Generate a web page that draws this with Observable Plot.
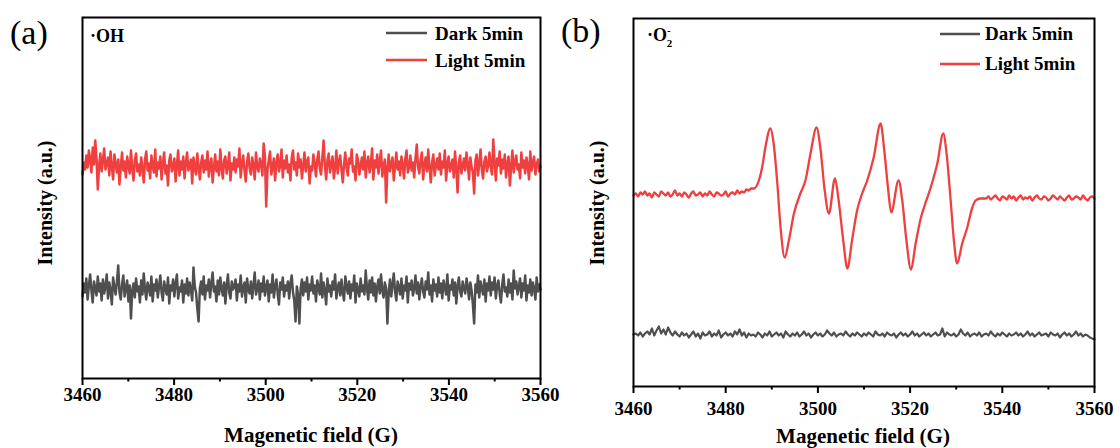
<!DOCTYPE html>
<html>
<head>
<meta charset="utf-8">
<script src="https://cdn.jsdelivr.net/npm/d3@7"></script>
<script src="https://cdn.jsdelivr.net/npm/@observablehq/plot@0.6"></script>
<style>
  html, body { margin: 0; padding: 0; background: #fff; }
  #wrap { position: relative; width: 1120px; height: 448px; overflow: hidden; }
  #wrap > svg { position: absolute; top: 0; }
</style>
</head>
<body>
<div id="wrap"></div>
<script>
// ---------- data ----------
const seriesNames = ["Dark 5min", "Light 5min"];
const panelLetters = ["(a)", "(b)"];
const xTicksMajor = [3460, 3480, 3500, 3520, 3540, 3560];
const xTicksMinor = [3470, 3490, 3510, 3530, 3550];
const xLabel = "Magenetic field (G)";
const yLabel = "Intensity (a.u.)";

// Panel (a) ·OH  (evenly sampled from 3460 to 3560 G)
const lightA = [
204,216,209,223,211,228,219,206,231,214,238,220,189,213,225,207,218,230,209,215,
221,203,227,212,199,224,215,206,219,194,212,226,208,217,201,222,213,205,228,210,
198,218,225,207,214,203,221,211,196,219,227,208,215,200,223,212,206,229,202,216,
210,222,199,215,226,205,213,193,218,224,207,211,220,197,214,228,203,217,209,222,
200,215,226,208,213,219,195,221,210,204,225,212,199,216,223,206,218,209,227,202,
214,220,196,211,224,207,217,203,229,212,200,218,222,205,213,226,198,215,209,221,
206,219,212,230,201,214,223,208,197,217,225,210,204,221,213,199,226,211,207,220,
215,203,235,222,172,209,218,227,204,212,220,198,216,224,207,213,229,201,218,210,
223,206,214,198,221,228,209,216,203,225,211,219,200,213,226,207,217,221,195,212,
208,224,215,202,219,227,210,204,221,238,213,199,218,225,206,214,222,200,211,228,
205,217,223,209,196,214,226,211,203,220,215,229,207,212,198,224,218,204,213,221,
209,227,201,216,222,206,214,230,199,218,211,224,205,217,228,202,213,219,176,210,
224,207,215,221,198,212,226,209,217,203,222,214,200,219,228,206,211,223,208,216,
201,220,234,212,205,218,226,199,214,221,207,229,211,196,216,224,203,213,220,209,
225,204,217,211,228,198,215,222,207,213,219,201,227,210,186,216,223,205,212,220,
208,226,214,199,221,212,206,185,218,224,203,215,229,209,200,217,222,207,213,226,
211,204,239,216,198,220,213,227,205,219,210,224,201,215,222,193,212,228,206,217,
223,209,214,200,226,211,218,205,221,213,199,227,208,216,222,204,214,219,207,212];
const darkA = [
82,95,86,100,79,93,104,88,76,97,90,83,102,87,95,78,99,85,92,104,
80,96,88,74,101,91,84,97,113,86,79,94,103,82,90,98,77,93,60,88,
95,81,100,87,92,76,98,84,105,89,79,96,91,83,102,77,94,88,99,81,
92,103,86,78,97,90,84,101,75,93,88,99,82,95,104,80,91,87,98,76,
94,85,100,83,96,89,78,111,92,86,70,57,90,97,84,102,79,93,88,99,
81,95,106,87,92,77,98,84,101,90,83,96,75,93,104,86,80,97,89,92,
99,78,94,87,103,82,91,96,76,100,88,85,97,80,93,106,84,90,98,79,
95,87,102,83,91,98,77,94,86,104,81,92,99,85,74,96,89,101,82,93,
88,97,80,95,103,86,78,57,92,84,55,90,99,83,96,87,101,79,94,88,
102,85,93,77,98,90,84,105,81,96,88,74,100,87,93,82,97,89,104,80,
91,96,83,99,86,78,102,92,85,97,80,94,88,103,76,95,89,82,100,87,
93,84,108,90,79,98,86,101,83,95,77,92,99,85,104,88,81,96,90,55,
86,99,82,94,105,87,78,97,91,84,100,80,93,88,102,76,95,89,98,83,
90,103,85,96,79,92,100,87,81,97,89,106,84,93,77,99,88,94,82,101,
86,95,80,98,91,84,104,78,93,89,99,83,96,75,92,101,87,82,97,90,
85,100,92,79,96,88,74,55,94,86,103,81,97,90,84,99,77,95,88,102,
83,96,89,101,80,93,98,85,76,94,104,87,91,82,99,86,95,79,108,90,
97,84,92,100,81,95,88,103,78,93,86,99,83,96,90,79,101,87,94,89];

// Panel (b) ·O2-
// light: baseline 3460–3485.5 G (0.5 G step), signal region (read points), baseline 3536.5–3560 G (0.5 G step)
const lightBLeft = [
191,193,190,194,192,195,191,193,189,194,192,190,195,193,191,194,190,192,196,191,
193,190,194,192,189,193,195,191,192,194,190,193,191,195,192,190,194,193,191,192,
195,190,193,194,192,196,193,195,194,197,196,198];
const lightBSignalField = [
3486.1,3487.2,3487.9,3488.6,3489.7,3490.4,3491.2,3491.9,3492.8,3493.7,
3494.8,3496.2,3497.3,3498.4,3499.7,3500.6,3501.4,3502.4,3503.7,3504.5,
3505.5,3506.4,3507.4,3508.5,3509.6,3510.7,3512.1,3513.6,3514.4,3515.2,
3515.9,3517.5,3518.3,3519.2,3520.2,3521.2,3522.3,3523.3,3524.4,3525.9,
3527.2,3528.0,3528.8,3529.5,3530.2,3531.3,3532.4,3533.5,3534.2,3535.2,3536.0];
const lightBSignal = [
198,206,219,239,258,243,203,159,129,146,
173,193,206,233,259,236,199,173,208,186,
146,118,146,176,193,206,229,263,236,199,
174,206,186,146,117,143,168,183,198,223,
253,229,186,146,123,143,159,179,186,188,188];
const lightBRight = [
188,190,187,189,191,188,186,190,189,187,191,188,190,186,189,191,187,189,188,190,
186,189,191,188,187,190,189,186,188,191,189,187,190,188,186,189,191,187,188,190,
189,187,191,188,186,189,190,188];
// dark: 3460–3560 G, 0.5 G step
const darkB = [
52,53,51,54,50,53,55,52,58,51,56,60,53,57,52,59,54,51,55,52,
50,54,51,53,49,52,55,50,53,48,54,51,52,55,50,53,51,56,49,52,
54,51,53,50,55,52,57,51,54,49,53,51,52,50,54,52,49,53,51,55,
50,52,54,51,53,49,55,52,50,53,51,54,50,52,55,51,53,49,52,54,
51,53,50,52,56,53,51,54,50,52,53,51,55,52,50,53,51,54,52,50,
53,51,54,52,50,55,52,51,53,50,54,52,51,53,49,52,54,51,53,50,
52,55,51,53,50,52,54,51,53,50,52,54,51,52,58,50,54,52,51,53,
50,52,57,53,51,54,50,52,53,51,54,50,52,53,51,55,52,50,53,51,
54,52,50,53,51,52,54,51,53,50,52,55,51,53,50,52,54,51,52,53,
50,54,52,51,53,49,52,54,51,53,50,52,55,51,53,50,52,51,49,48,47];

// ---------- build tables ----------
const X0 = 3460, X1 = 3560;
const tA = lightA.map((v, i) => ({x: X0 + i * (X1 - X0) / (lightA.length - 1), y: v}));
const tAd = darkA.map((v, i) => ({x: X0 + i * (X1 - X0) / (darkA.length - 1), y: v}));
const tB = [
  ...lightBLeft.map((v, i) => ({x: X0 + i * 0.5, y: v})),
  ...lightBSignal.map((v, i) => ({x: lightBSignalField[i], y: v})),
  ...lightBRight.map((v, i) => ({x: 3536.5 + i * 0.5, y: v}))
];
const tBd = darkB.map((v, i) => ({x: X0 + i * 0.5, y: v}));

const RED = "#ef3f3f", GRAY = "#4f4f4f";
const FONT = "'Liberation Serif', 'Times New Roman', serif";

function panel(cfg) {
  const svg = Plot.plot({
    width: 560, height: 448,
    marginLeft: cfg.ml, marginRight: cfg.mr, marginTop: cfg.mt, marginBottom: cfg.mb,
    style: {fontFamily: FONT, fontSize: "19px", fontWeight: "bold", color: "#000", background: "#fff", overflow: "visible"},
    x: {domain: [X0, X1]},
    y: {domain: [0, cfg.yMax], axis: null},
    marks: [
      Plot.line(cfg.dark, {x: "x", y: "y", stroke: GRAY, strokeWidth: cfg.sw}),
      Plot.line(cfg.light, {x: "x", y: "y", stroke: RED, strokeWidth: cfg.swL, curve: cfg.curve}),
      Plot.frame({stroke: "#000", strokeWidth: 2}),
      Plot.axisX({ticks: xTicksMajor, tickSize: 7, tickPadding: cfg.tp, strokeWidth: 2,
                  tickFormat: d => String(d), label: null,
                  fontSize: 19, fontWeight: "bold", fontFamily: FONT, fill: "#000"}),
      Plot.axisX({ticks: xTicksMinor, tickSize: 3.5, strokeWidth: 2, text: null, label: null})
    ]
  });
  const s = d3.select(svg);
  // make tick labels bold serif
  s.selectAll("text").style("font-family", FONT).style("font-weight", "bold").style("font-size", "19px");
  const add = (txt, x, y, size, weight, anchor) =>
    s.append("text").attr("x", x).attr("y", y)
     .style("font-family", FONT).style("font-size", size + "px").style("font-weight", weight)
     .attr("text-anchor", anchor || "start").attr("fill", "#000").text(txt);
  add(cfg.letter, cfg.letterX, cfg.letterY, 34, "normal");
  // species label
  const sp = add("", cfg.spX, cfg.spY, 18, "bold");
  sp.append("tspan").style("font-size", "18px").text(cfg.species);
  if (cfg.sub) {
    sp.append("tspan").style("font-size", "11px").attr("dy", -7).text("-");
    sp.append("tspan").style("font-size", "11px").attr("dx", -4).attr("dy", 13).text(cfg.sub);
  }
  // legend
  [GRAY, RED].forEach((c, i) => {
    s.append("line").attr("x1", cfg.lgX1).attr("x2", cfg.lgX2)
     .attr("y1", cfg.lgY[i]).attr("y2", cfg.lgY[i]).attr("stroke", c).attr("stroke-width", 2.5);
    add(seriesNames[i], cfg.lgTX, cfg.lgTY[i], 19, "bold");
  });
  // axis labels
  add(xLabel, cfg.xlX, cfg.xlY, 21, "bold", "middle");
  add(yLabel, 0, 0, 20, "bold", "middle").attr("transform", `translate(${cfg.ylX},${cfg.ylY}) rotate(-90)`);
  svg.style.left = cfg.left + "px";
  return svg;
}

const wrap = document.getElementById("wrap");
wrap.appendChild(panel({
  left: 0, ml: 82, mr: 20, mt: 17, mb: 70, yMax: 361, tp: 2, sw: 2.5, swL: 2.5, curve: "linear",
  light: tA, dark: tAd, letter: panelLetters[0], letterX: 10, letterY: 44,
  species: "·OH", sub: null, spX: 90, spY: 42,
  lgX1: 386, lgX2: 427, lgY: [33, 60], lgTX: 435, lgTY: [40, 67],
  xlX: 311, xlY: 442, ylX: 52, ylY: 203
}));
wrap.appendChild(panel({
  left: 560, ml: 73, mr: 26, mt: 18, mb: 62, yMax: 368, tp: 8, sw: 2.2, swL: 2.3, curve: "monotone-x",
  light: tB, dark: tBd, letter: panelLetters[1], letterX: 1, letterY: 42,
  species: "·O", sub: "2", spX: 87, spY: 41,
  lgX1: 380, lgX2: 420, lgY: [34, 64], lgTX: 425, lgTY: [40, 70],
  xlX: 303, xlY: 443, ylX: 44, ylY: 203
}));
</script>
</body>
</html>
